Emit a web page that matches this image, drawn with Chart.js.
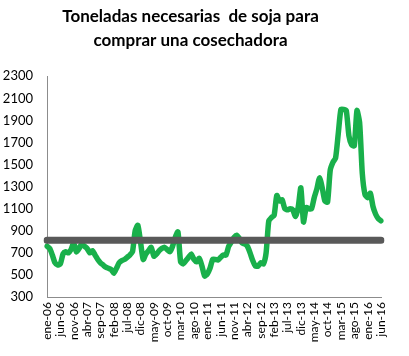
<!DOCTYPE html>
<html>
<head>
<meta charset="utf-8">
<script src="https://cdn.jsdelivr.net/npm/chart.js@4"></script>
<style>
html,body{margin:0;padding:0;background:#fff;}
#wrap{width:409px;height:356px;position:relative;}
</style>
</head>
<body>
<div id="wrap"><canvas id="c" width="409" height="356"></canvas></div>
<script>
const titleLines = ["Toneladas necesarias  de soja para", "comprar una cosechadora"];
const monthNames = ["ene","feb","mar","abr","may","jun","jul","ago","sep","oct","nov","dic"];
const years = ["06","07","08","09","10","11","12","13","14","15","16"];
const lastMonthIndex = 5; // jun-16
const labels = [];
years.forEach((y, yi) => {
  monthNames.forEach((m, mi) => {
    if (yi < years.length - 1 || mi <= lastMonthIndex) labels.push(m + "-" + y);
  });
});
const toneladas = [
  760,740,680,610,590,600,690,710,700,730,790,710,
  740,780,760,740,700,720,680,640,610,590,570,560,
  550,515,560,610,630,640,660,680,710,900,950,800,
  640,690,720,750,670,690,720,740,750,730,710,760,
  840,890,620,600,630,660,690,640,620,650,580,490,
  510,560,640,640,635,660,680,680,760,800,840,860,
  830,790,780,760,700,630,580,580,610,600,700,990,
  1020,1040,1220,1170,1180,1100,1090,1100,1090,1030,1110,1290,
  980,1110,1100,1100,1200,1280,1380,1290,1170,1160,1450,1520,
  1560,1780,2000,2000,1990,1760,1680,1670,1990,1880,1420,1230,
  1200,1240,1120,1050,1010,990
];
const promedio = 815;
const yMin = 300, yMax = 2300, yStep = 200;
const labelEvery = 5;

new Chart(document.getElementById('c'), {
  type: 'line',
  data: {
    labels: labels,
    datasets: [
      {
        label: 'Promedio',
        data: [{x: labels[0], y: promedio}, {x: labels[labels.length-1], y: promedio}],
        borderColor: '#595959',
        borderWidth: 7,
        borderCapStyle: 'round',
        pointRadius: 0,
        fill: false
      },
      {
        label: 'Toneladas',
        data: toneladas,
        borderColor: '#19b04b',
        borderWidth: 5.5,
        borderJoinStyle: 'round',
        borderCapStyle: 'round',
        pointRadius: 0,
        tension: 0.2,
        fill: false
      }
    ]
  },
  options: {
    responsive: false,
    animation: false,
    layout: { padding: { left: 0, right: 28, top: 0, bottom: 0 } },
    plugins: {
      legend: { display: false },
      tooltip: { enabled: false },
      title: {
        display: true,
        text: titleLines,
        color: '#000',
        font: { family: 'Lato', size: 17, weight: 'bold', lineHeight: 1.45 },
        padding: { top: 4, bottom: 23 }
      }
    },
    scales: {
      x: {
        type: 'category',
        offset: false,
        grid: { display: false, drawTicks: false },
        border: { color: '#8c8c8c', width: 1 },
        afterFit: (s) => { s.height = 59; },
        ticks: {
          autoSkip: false,
          maxRotation: 90,
          minRotation: 90,
          padding: 5,
          color: '#000',
          font: { family: 'Lato', size: 12 },
          callback: function(v, i) { return i % labelEvery === 0 ? labels[i] : null; }
        }
      },
      y: {
        min: yMin,
        max: yMax,
        grid: { display: false, drawTicks: false },
        border: { color: '#8c8c8c', width: 1 },
        afterFit: (s) => { s.width = 47; },
        ticks: {
          stepSize: yStep,
          padding: 14,
          color: '#000',
          font: { family: 'Lato', size: 13 },
          callback: (v) => String(v)
        }
      }
    }
  }
});
</script>
</body>
</html>
